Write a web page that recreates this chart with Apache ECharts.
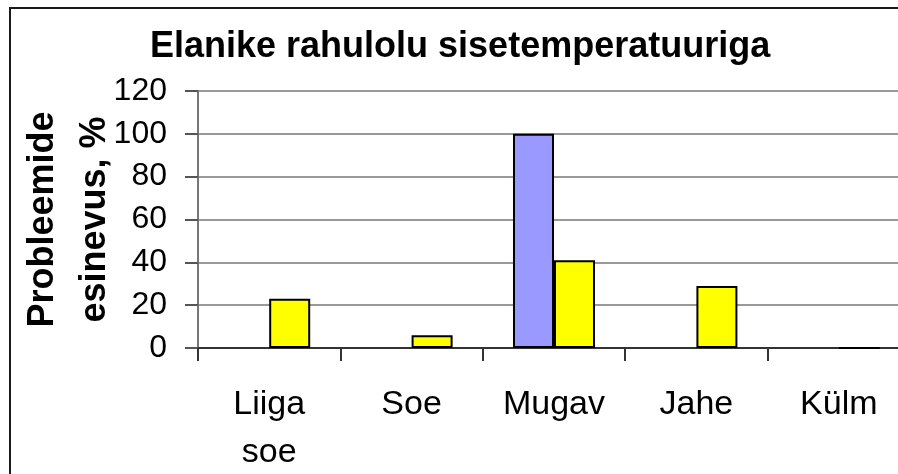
<!DOCTYPE html>
<html>
<head>
<meta charset="utf-8">
<script src="https://cdn.jsdelivr.net/npm/echarts@6/dist/echarts.min.js"></script>
<style>
  html, body { margin: 0; padding: 0; background: #fff; }
  #chart { width: 898px; height: 474px; }
</style>
</head>
<body>
<div id="chart"></div>
<script>
// kategooriad ja väärtused
var categories = ['Liiga soe', 'Soe', 'Mugav', 'Jahe', 'Külm'];
var blueValues = [null, null, 100, null, null];
var yellowValues = [23, 6, 41, 29, 0];
var yTicks = { min: 0, max: 120, step: 20 };

var font = '"Liberation Sans", Arial, sans-serif';
var chart = echarts.init(document.getElementById('chart'));

var option = {
    backgroundColor: '#fff',
    animation: false,
    title: {
        text: 'Elanike rahulolu sisetemperatuuriga',
        left: 150,
        top: 29,
        padding: 0,
        textStyle: {
            fontFamily: font,
            fontSize: 36,
            fontWeight: 'bold',
            color: '#000'
        }
    },
    graphic: [{
        type: 'rect',
        z: -1,
        shape: { x: 10, y: 8, width: 1000, height: 1000 },
        style: { fill: 'none', stroke: '#1a1a1a', lineWidth: 2 }
    }],
    grid: {
        left: 198,
        top: 91,
        bottom: 126,
        right: -12,
        containLabel: false,
        outerBoundsMode: 'none'
    },
    xAxis: {
        type: 'category',
        data: categories,
        boundaryGap: true,
        axisLine: { lineStyle: { color: '#333', width: 2 } },
        axisTick: { show: true, interval: 0, length: 13, lineStyle: { color: '#333', width: 2 } },
        axisLabel: {
            interval: 0,
            margin: 33,
            fontFamily: font,
            fontSize: 34,
            lineHeight: 48,
            color: '#000',
            formatter: function (v) { return v.replace(' ', '\n'); }
        }
    },
    yAxis: {
        type: 'value',
        min: yTicks.min,
        max: yTicks.max,
        interval: yTicks.step,
        name: 'Probleemide\nesinevus, %',
        nameLocation: 'middle',
        nameGap: 77,
        nameMoveOverlap: false,
        nameTextStyle: {
            fontFamily: font,
            fontSize: 36,
            fontWeight: 'bold',
            lineHeight: 52,
            color: '#000'
        },
        axisLine: { show: true, lineStyle: { color: '#777', width: 2 } },
        axisTick: { show: true, length: 13, lineStyle: { color: '#555', width: 2 } },
        axisLabel: {
            margin: 31,
            fontFamily: font,
            fontSize: 32,
            color: '#000'
        },
        splitLine: { show: true, lineStyle: { color: '#777', width: 1.5 } }
    },
    series: [
        {
            type: 'bar',
            name: 'sinine',
            data: blueValues,
            barWidth: 41,
            barGap: '0%',
            itemStyle: { color: '#9999FF', borderColor: '#000', borderWidth: 2 }
        },
        {
            type: 'bar',
            name: 'kollane',
            data: yellowValues,
            barWidth: 41,
            barGap: '0%',
            itemStyle: { color: '#FFFF00', borderColor: '#000', borderWidth: 2 }
        }
    ]
};

chart.setOption(option);
</script>
</body>
</html>
